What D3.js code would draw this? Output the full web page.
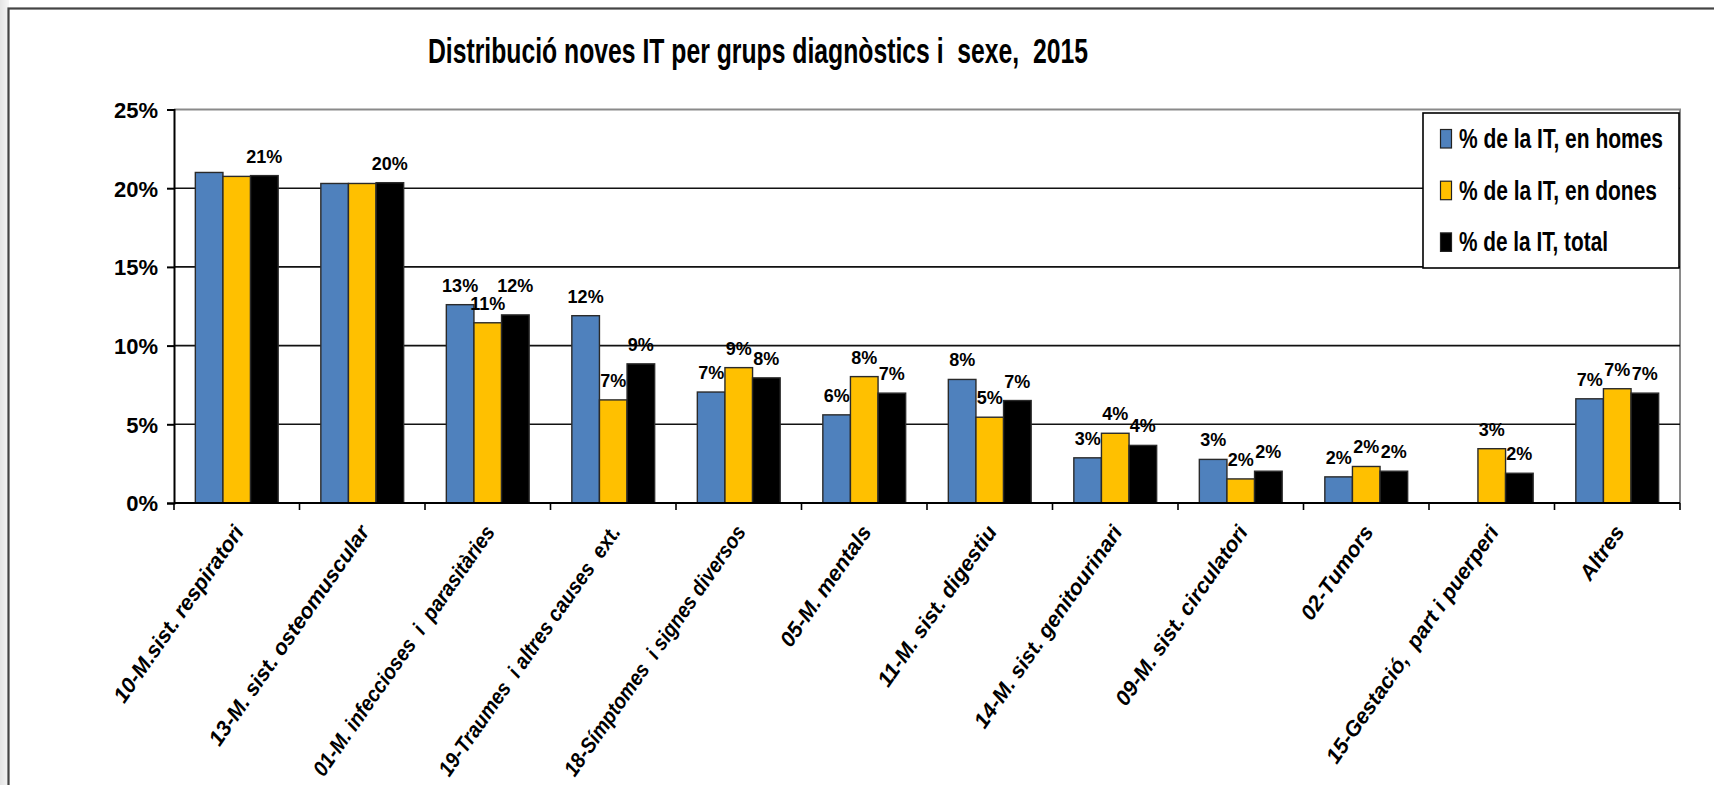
<!DOCTYPE html>
<html>
<head>
<meta charset="utf-8">
<script src="https://cdn.jsdelivr.net/npm/d3@7/dist/d3.min.js"></script>
<style>
  html, body { margin: 0; padding: 0; background: #fff; }
  svg { display: block; }
  text { font-family: "Liberation Sans", Arial, sans-serif; font-weight: bold; fill: #000; white-space: pre; }
</style>
</head>
<body>
<script>
const title = "Distribució noves IT per grups diagnòstics i  sexe,  2015";
const categories = [
  "10-M.sist. respiratori",
  "13-M. sist. osteomuscular",
  "01-M. infeccioses  i  parasitàries",
  "19-Traumes  i altres causes  ext.",
  "18-Símptomes  i signes diversos",
  "05-M. mentals",
  "11-M. sist. digestiu",
  "14-M. sist. genitourinari",
  "09-M. sist. circulatori",
  "02-Tumors",
  "15-Gestació,  part i puerperi",
  "Altres"
];
const seriesNames = ["% de la IT, en homes", "% de la IT, en dones", "% de la IT, total"];
const homes = [21.0, 20.3, 12.6, 11.9, 7.05, 5.6, 7.85, 2.87, 2.77, 1.66, 0, 6.62];
const dones = [20.75, 20.3, 11.45, 6.55, 8.6, 8.03, 5.45, 4.43, 1.53, 2.32, 3.45, 7.26];
const total = [20.8, 20.35, 11.95, 8.84, 7.95, 6.98, 6.51, 3.66, 2.02, 2.02, 1.89, 6.98];
// which value labels are displayed (1 = shown)
const homesLabelShown = [0, 0, 1, 1, 1, 1, 1, 1, 1, 1, 0, 1];
const donesLabelShown = [0, 0, 1, 1, 1, 1, 1, 1, 1, 1, 1, 1];
const totalLabelShown = [1, 1, 1, 1, 1, 1, 1, 1, 1, 1, 1, 1];
const yTicks = [0, 5, 10, 15, 20, 25];

const colors = ["#4F81BD", "#FFC000", "#000000"];
const W = 1714, H = 785;

const svg = d3.select("body").append("svg").attr("width", W).attr("height", H);

// background / outer frame
const defs = svg.append("defs");
const grad = defs.append("linearGradient").attr("id", "shade").attr("x1", 0).attr("x2", 1).attr("y1", 0).attr("y2", 0);
grad.append("stop").attr("offset", 0).attr("stop-color", "#e4e4e4");
grad.append("stop").attr("offset", 1).attr("stop-color", "#f6f6f6");
svg.append("rect").attr("x", 0).attr("y", 0).attr("width", 9).attr("height", H).attr("fill", "url(#shade)");
svg.append("rect").attr("x", 8.5).attr("y", 8.5).attr("width", W + 50).attr("height", H + 50)
  .attr("fill", "#fff").attr("stroke", "#444").attr("stroke-width", 2.2);

// title
svg.append("text").attr("x", 428).attr("y", 63).attr("font-size", 35)
  .attr("textLength", 660).attr("lengthAdjust", "spacingAndGlyphs").text(title);

const pLeft = 174, pRight = 1680, pTop = 109.5, pBottom = 503;
const x = d3.scaleBand().domain(categories).range([pLeft, pRight]).padding(0);
const y = d3.scaleLinear().domain([0, 25]).range([pBottom, pTop]);
const groupFrac = 0.66;
const x1 = d3.scaleBand().domain([0, 1, 2]).range([0, x.bandwidth() * groupFrac]).padding(0);
const groupOffset = x.bandwidth() * (1 - groupFrac) / 2;

// plot area border (top & right)
svg.append("path").attr("d", `M${pLeft},${pTop}H${pRight}V${pBottom}`)
  .attr("fill", "none").attr("stroke", "#8a8a8a").attr("stroke-width", 2);

// gridlines
svg.append("g").selectAll("line").data(yTicks.filter(t => t > 0 && t < 25)).join("line")
  .attr("x1", pLeft).attr("x2", pRight).attr("y1", d => y(d)).attr("y2", d => y(d))
  .attr("stroke", "#111").attr("stroke-width", 1.6);

// bars
const series = [homes, dones, total];
const bars = [];
series.forEach((arr, si) => arr.forEach((v, ci) => bars.push({ si, ci, v })));
svg.append("g").selectAll("rect").data(bars.filter(d => d.v > 0)).join("rect")
  .attr("x", d => x(categories[d.ci]) + groupOffset + x1(d.si))
  .attr("width", x1.bandwidth())
  .attr("y", d => y(d.v))
  .attr("height", d => y(0) - y(d.v))
  .attr("fill", d => colors[d.si])
  .attr("stroke", "#2a2a2a").attr("stroke-width", 1.4);

// y axis
const yAxis = d3.axisLeft(y).tickValues(yTicks).tickFormat(d => d + "%").tickSize(7).tickPadding(9);
const gy = svg.append("g").attr("transform", `translate(${pLeft},0)`).call(yAxis);
gy.select(".domain").attr("stroke", "#000").attr("stroke-width", 2);
gy.selectAll(".tick line").attr("stroke", "#000").attr("stroke-width", 2);
gy.selectAll(".tick text").attr("font-size", 22).attr("font-family", null).attr("dy", "0.36em");

// x axis: ticks at category boundaries
const gx = svg.append("g");
gx.append("line").attr("x1", pLeft).attr("x2", pRight).attr("y1", pBottom).attr("y2", pBottom)
  .attr("stroke", "#000").attr("stroke-width", 2);
const boundaries = categories.map(c => x(c)).concat([x(categories[categories.length - 1]) + x.bandwidth()]);
gx.selectAll("line.tk").data(boundaries).join("line").attr("class", "tk")
  .attr("x1", d => d).attr("x2", d => d).attr("y1", pBottom).attr("y2", pBottom + 7)
  .attr("stroke", "#000").attr("stroke-width", 1.6);
const maxLabelLen = 300;
gx.selectAll("text").data(categories).join("text")
  .attr("transform", d => `translate(${x(d) + x.bandwidth() / 2 + 8},${pBottom + 29}) rotate(-55)`)
  .attr("text-anchor", "end").attr("font-size", 21.5).attr("font-style", "italic")
  .text(d => d)
  .each(function () {
    const len = this.getComputedTextLength();
    if (len > maxLabelLen) {
      d3.select(this).attr("textLength", maxLabelLen).attr("lengthAdjust", "spacingAndGlyphs");
    }
  });

// value labels
const shown = [homesLabelShown, donesLabelShown, totalLabelShown];
const lblG = svg.append("g");
const labelFont = 18;
categories.forEach((c, ci) => {
  const placed = [];
  [0, 1, 2].forEach(si => {
    if (!shown[si][ci]) return;
    const v = series[si][ci];
    const cx = x(c) + groupOffset + x1(si) + x1.bandwidth() / 2;
    let base = y(v) - 13;
    const w = 2.0 * labelFont * (Math.round(v) >= 10 ? 1 : 0.72);
    const h = labelFont * 0.75;
    placed.forEach(p => {
      const overlapX = Math.abs(p.cx - cx) < (p.w + w) / 2;
      const overlapY = base > p.base - h - 2 && base - h < p.base + 2;
      if (overlapX && overlapY) base = p.base - h - 4;
    });
    placed.push({ cx, base, w });
    lblG.append("text").attr("x", cx).attr("y", base).attr("text-anchor", "middle")
      .attr("font-size", labelFont).text(Math.round(v) + "%");
  });
});

// legend
const lg = svg.append("g");
lg.append("rect").attr("x", 1423).attr("y", 113).attr("width", 256).attr("height", 155)
  .attr("fill", "#fff").attr("stroke", "#000").attr("stroke-width", 1.6);
const legendLens = [204, 198, 149];
seriesNames.forEach((n, i) => {
  const base = 148 + i * 51.7;
  lg.append("rect").attr("x", 1440.5).attr("y", base - 18.5).attr("width", 11).attr("height", 18.5)
    .attr("fill", colors[i]).attr("stroke", "#222").attr("stroke-width", 1.2);
  lg.append("text").attr("x", 1459).attr("y", base).attr("font-size", 27)
    .attr("textLength", legendLens[i]).attr("lengthAdjust", "spacingAndGlyphs").text(n);
});
</script>
</body>
</html>
